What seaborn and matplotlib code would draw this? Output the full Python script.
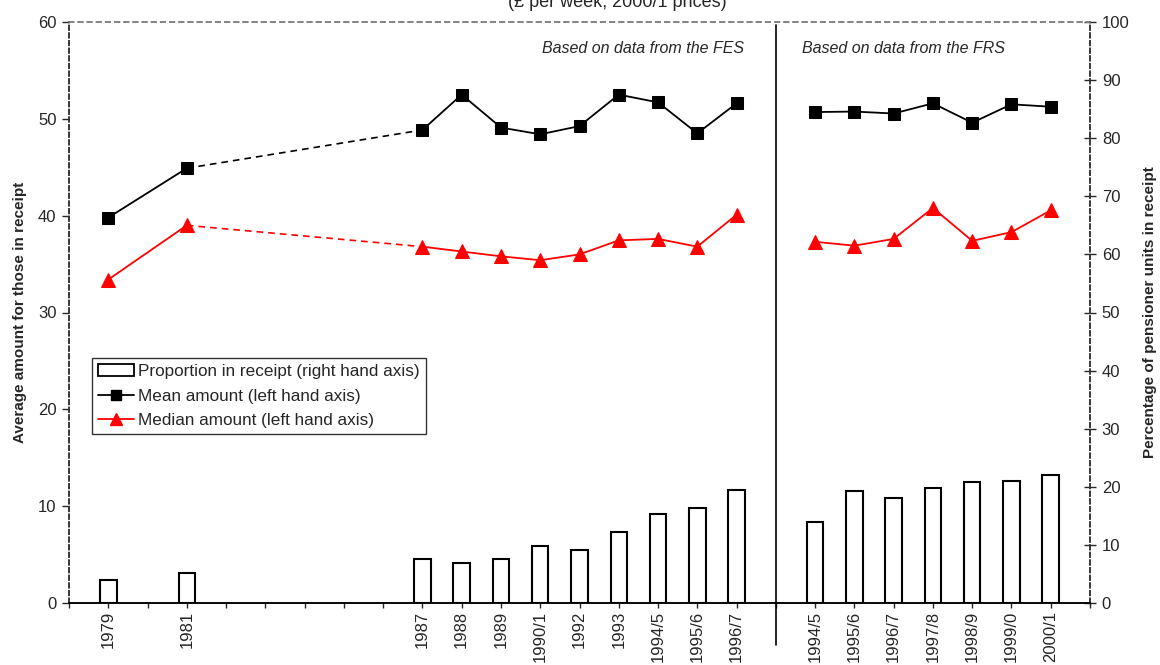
import numpy as np
import pandas as pd
import seaborn as sns
import matplotlib.pyplot as plt
from matplotlib.patches import Patch
from matplotlib.lines import Line2D

sns.set_style('white')
plt.rcParams['font.family'] = ['Liberation Sans', 'DejaVu Sans']

# category axis, blank slots are empty years / the FES-FRS break
labels = ['1979', '', '1981', '', '', '', '', '', '1987', '1988', '1989', '1990/1', '1992', '1993',
          '1994/5', '1995/6', '1996/7', '', '1994/5', '1995/6', '1996/7', '1997/8', '1998/9',
          '1999/0', '2000/1']
mean_amt = [39.8, None, 44.9, None, None, None, None, None, 48.85, 52.5, 49.1, 48.4, 49.25, 52.5,
            51.7, 48.5, 51.6, None, 50.7, 50.75, 50.55, 51.6, 49.6, 51.5, 51.25]
median_amt = [33.4, None, 39.0, None, None, None, None, None, 36.8, 36.3, 35.8, 35.4, 36.0, 37.45,
              37.6, 36.8, 40.1, None, 37.3, 36.9, 37.6, 40.8, 37.4, 38.3, 40.55]
prop_receipt = [4.0, None, 5.2, None, None, None, None, None, 7.6, 6.9, 7.6, 9.75, 9.2, 12.2,
                15.4, 16.4, 19.5, None, 13.9, 19.3, 18.1, 19.8, 20.8, 21.0, 22.0]
segment = ['early', None, 'early', None, None, None, None, None] + ['fes'] * 9 + [None] + ['frs'] * 7

df = pd.DataFrame({'label': labels, 'mean': mean_amt, 'median': median_amt,
                   'prop': prop_receipt, 'seg': segment})
df['pos'] = np.arange(len(df))
brk = labels.index('', 9)

fig = plt.figure(figsize=(11.6, 6.65), dpi=100)
ax2 = fig.add_axes([69 / 1160, 1 - 603 / 665, 1021 / 1160, 581 / 665])
ax = ax2.twinx()
ax.set_zorder(ax2.get_zorder() + 1)
ax.patch.set_visible(False)

# bars on the right hand axis
bars = df.dropna(subset=['prop'])
sns.barplot(data=bars, x='pos', y='prop', native_scale=True, width=0.42, color='white',
            edgecolor='black', linewidth=1.5, ax=ax2)

# lines on the left hand axis
for col, c, m, ms in [('mean', 'black', 's', 8.5), ('median', 'red', '^', 10)]:
    for seg in ['early', 'fes', 'frs']:
        d = df[df['seg'] == seg]
        sns.lineplot(data=d, x='pos', y=col, color=c, marker=m, markersize=ms,
                     markeredgecolor=c, linewidth=1.3, sort=False, ax=ax)
    gap = df[df['label'].isin(['1981', '1987'])]
    sns.lineplot(data=gap, x='pos', y=col, color=c, linestyle=(0, (4, 3)), linewidth=1.2,
                 sort=False, ax=ax)

# swap sides: lines axis on the left, bars axis on the right
ax.yaxis.tick_left()
ax.yaxis.set_label_position('left')
ax2.yaxis.tick_right()
ax2.yaxis.set_label_position('right')

ax.set_ylim(0, 60)
ax2.set_ylim(0, 100)
ax.set_yticks(range(0, 61, 10))
ax2.set_yticks(range(0, 101, 10))
ax.set_xlabel('')
ax2.set_xlabel('')
ax.tick_params(axis='x', bottom=False, top=False, labelbottom=False, labeltop=False)

ax2.set_xlim(-1, len(labels))
ax2.set_xticks(range(-1, len(labels) + 1))
ax2.set_xticklabels([''] + labels + [''], rotation=90, fontsize=12)

ax.tick_params(axis='y', direction='out', length=5, width=1, labelsize=12, pad=4,
               left=True, right=False)
ax2.tick_params(axis='y', direction='inout', length=9, width=1, labelsize=12, pad=4,
                right=True, left=False)
ax2.tick_params(axis='x', direction='out', length=3.6, width=1, pad=2, bottom=True)

ax.set_ylabel('Average amount for those in receipt', fontsize=11, fontweight='bold', labelpad=8)
ax2.set_ylabel('Percentage of pensioner units in receipt', fontsize=11, fontweight='bold',
               labelpad=10)

for a in (ax, ax2):
    a.spines['top'].set_linestyle((0, (3, 3)))
    a.spines['top'].set_color('#808080')
    a.spines['left'].set_linestyle((0, (3, 2)))
    a.spines['left'].set_color('#333333')
    a.spines['right'].set_linestyle((0, (3, 2)))
    a.spines['right'].set_color('#333333')
    a.spines['bottom'].set_color('black')
    for s in a.spines.values():
        s.set_linewidth(1.1)

# FES / FRS break line
ax.plot([brk, brk], [-0.072, 0.995], color='black', linewidth=1.2,
        transform=ax.get_xaxis_transform(), clip_on=False)

ax.text(16.2, 57.3, 'Based on data from the FES', ha='right', va='center', fontsize=11.5,
        fontstyle='italic')
ax.text(17.67, 57.3, 'Based on data from the FRS', ha='left', va='center', fontsize=11.5,
        fontstyle='italic')

fig.text(617 / 1160, 1 - 7 / 665, '(£ per week, 2000/1 prices)', ha='center', va='baseline',
         fontsize=13)

handles = [Patch(facecolor='white', edgecolor='black', linewidth=1.3),
           Line2D([], [], color='black', marker='s', markersize=7, linewidth=1.3),
           Line2D([], [], color='red', marker='^', markersize=8, linewidth=1.3)]
leg = ax.legend(handles, ['Proportion in receipt (right hand axis)', 'Mean amount (left hand axis)',
                          'Median amount (left hand axis)'],
                loc='lower left', bbox_to_anchor=(0.0225, 0.291), fontsize=12.3, frameon=True,
                fancybox=False, borderpad=0.35, labelspacing=0.55, handlelength=2.1,
                handletextpad=0.25, borderaxespad=0)
leg.get_frame().set_edgecolor('black')
leg.get_frame().set_linewidth(1.0)

fig.savefig('out.png', dpi=100)
